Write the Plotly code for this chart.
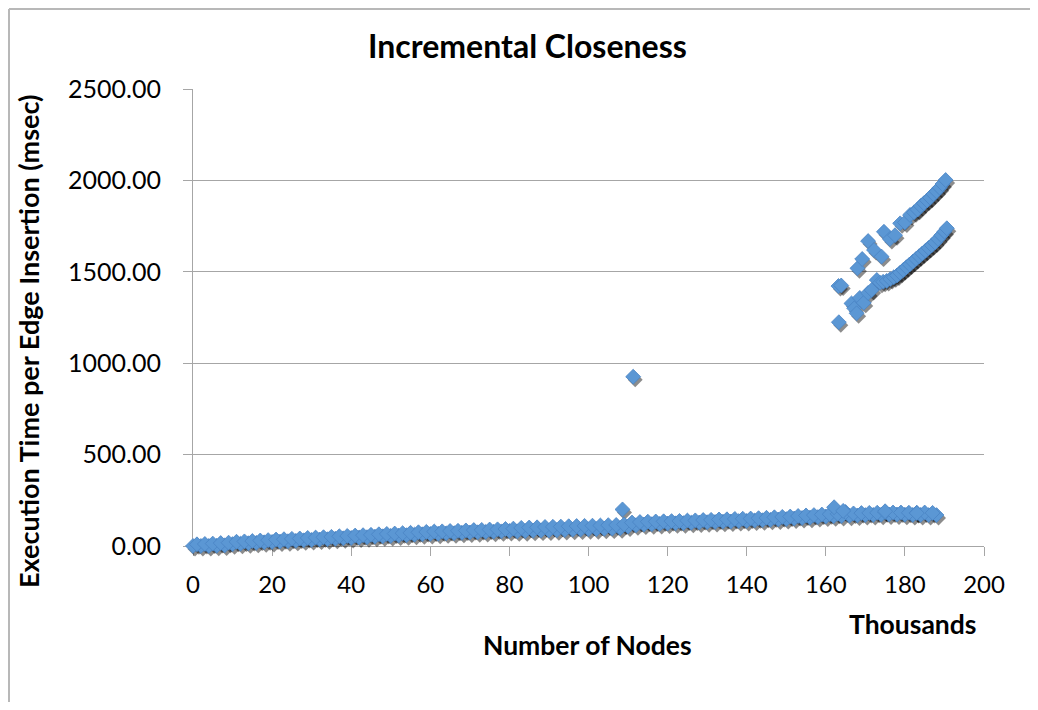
import plotly.graph_objects as go

# ---------------- data (thousands of nodes, msec) ----------------
band_low_x = [0, 2, 4, 6, 8, 10, 12, 14, 16, 18, 20, 22, 24, 26, 28, 30, 32, 34, 36, 38,
              40, 42, 44, 46, 48, 50, 52, 54, 56, 58, 60, 62, 64, 66, 68, 70, 72, 74, 76, 78,
              80, 82, 84, 86, 88, 90, 92, 94, 96, 98, 100, 102, 104, 106, 108, 110, 112, 114, 116, 118,
              120, 122, 124, 126, 128, 130, 132, 134, 136, 138, 140, 142, 144, 146, 148, 150, 152, 154, 156, 158,
              160, 162, 164, 166, 168, 170, 172, 174, 176, 178, 180, 182, 184, 186, 188]
band_low_y = [0, 0, 0, 1, 3, 10, 12, 15, 17, 20, 22, 24, 26, 28, 31, 33, 35, 37, 40, 42,
              44, 46, 48, 51, 53, 55, 57, 59, 62, 64, 66, 67, 69, 70, 72, 74, 75, 77, 78, 80,
              82, 80, 81, 83, 84, 85, 86, 87, 89, 90, 91, 92, 94, 95, 97, 106, 113, 117, 119, 120,
              123, 124, 125, 127, 128, 130, 131, 133, 134, 136, 137, 139, 141, 143, 145, 147, 150, 153, 155, 158,
              161, 163, 164, 166, 167, 169, 170, 171, 172, 172, 171, 170, 170, 169, 169]

band_high_x = [1, 3, 5, 7, 9, 11, 13, 15, 17, 19, 21, 23, 25, 27, 29, 31, 33, 35, 37, 39,
               41, 43, 45, 47, 49, 51, 53, 55, 57, 59, 61, 63, 65, 67, 69, 71, 73, 75, 77, 79,
               81, 83, 85, 87, 89, 91, 93, 95, 97, 99, 101, 103, 105, 107, 109, 111, 113, 115, 117, 119,
               121, 123, 125, 127, 129, 131, 133, 135, 137, 139, 141, 143, 145, 147, 149, 151, 153, 155, 157, 159,
               161, 163, 165, 167, 169, 171, 173, 175, 177, 179, 181, 183, 185, 187]
band_high_y = [9, 11, 13, 16, 18, 23, 25, 27, 30, 32, 35, 37, 39, 41, 44, 46, 48, 50, 53, 55,
               57, 59, 61, 64, 66, 68, 70, 72, 75, 77, 79, 80, 82, 83, 85, 87, 88, 90, 91, 93,
               95, 99, 101, 102, 104, 105, 106, 108, 109, 110, 111, 112, 114, 115, 118, 128, 131, 133, 134, 135,
               136, 137, 139, 140, 142, 143, 145, 146, 148, 149, 150, 152, 154, 157, 159, 161, 164, 167, 169, 172,
               174, 176, 186, 178, 180, 181, 182, 185, 183, 183, 182, 182, 183, 181]

outlier_x = [108.6, 111.3, 162.1, 164.4, 175.0, 183.0]
outlier_y = [200, 926, 212, 192, 190, 180]

upper_a_x = [163.2, 163.9, 168.0, 169.2, 170.7, 172.2, 174.1, 174.7, 176.2, 177.5, 178.8, 180.0,
             181.3, 182.3, 183.2, 184.0, 184.8, 185.6, 186.4, 187.2, 188.0, 188.8, 189.5, 190.3]
upper_a_y = [1422, 1425, 1519, 1570, 1668, 1619, 1583, 1719, 1679, 1700, 1765, 1770,
             1811, 1825, 1840, 1860, 1875, 1890, 1905, 1925, 1940, 1960, 1980, 2002]

upper_b_x = [163.3, 166.5, 167.2, 167.8, 168.6, 169.6, 170.7, 171.6, 172.9, 173.7, 174.5, 175.4,
             176.3, 177.2, 178.0, 178.8, 179.6, 180.4, 181.2, 182.0, 182.8, 183.6, 184.4, 185.2,
             186.0, 186.8, 187.6, 188.4, 189.2, 190.0, 190.6]
upper_b_y = [1224, 1327, 1300, 1273, 1357, 1330, 1384, 1400, 1455, 1440, 1445, 1450,
             1460, 1470, 1480, 1495, 1510, 1525, 1540, 1555, 1570, 1585, 1600, 1615,
             1630, 1645, 1660, 1680, 1700, 1720, 1738]

x_range = [0, 200]
y_range = [0, 2500]
x_ticks = [0, 20, 40, 60, 80, 100, 120, 140, 160, 180, 200]
y_ticks = [0, 500, 1000, 1500, 2000, 2500]
y_tick_labels = ["0.00", "500.00", "1000.00", "1500.00", "2000.00", "2500.00"]

all_x = band_low_x + band_high_x + outlier_x + upper_b_x + upper_a_x
all_y = band_low_y + band_high_y + outlier_y + upper_b_y + upper_a_y

# ---------------- figure ----------------
OFF = 8                       # default page body margin
W, H = 1022, 694
SX, SY = 2, 3                 # shadow offset px
ML, MT = 193 - OFF, 89 - OFF
MR = W - (984 - OFF) - SX
MB = H - (546 - OFF) - SY
PW, PH = W - ML - MR, H - MT - MB

FONT = "Lato"
GRID = "#a6a6a6"

fig = go.Figure()

# shadow (on offset axes x2/y2)
fig.add_trace(go.Scatter(
    x=all_x, y=all_y, mode="markers", xaxis="x2", yaxis="y2",
    marker=dict(symbol="diamond", size=11.5, color="rgba(0,0,0,0.45)", line=dict(width=0)),
    cliponaxis=False, hoverinfo="skip", showlegend=False))

# main markers (on x3/y3, same place as visible axes)
fig.add_trace(go.Scatter(
    x=all_x, y=all_y, mode="markers", xaxis="x3", yaxis="y3",
    marker=dict(symbol="diamond", size=11.5, color="#5b97d4",
                line=dict(width=0.8, color="#4a84c4")),
    cliponaxis=False, showlegend=False))

# invisible trace to anchor main visible axes
fig.add_trace(go.Scatter(x=[None], y=[None], mode="markers", showlegend=False, hoverinfo="skip"))

xdom_main = [0, (PW - SX) / PW]
ydom_main = [SY / PH, 1]
xdom_sh = [SX / PW, 1]
ydom_sh = [0, (PH - SY) / PH]

fig.update_layout(
    width=W, height=H,
    margin=dict(l=ML, r=MR, t=MT, b=MB),
    paper_bgcolor="white", plot_bgcolor="rgba(0,0,0,0)",
    showlegend=False,
    xaxis=dict(domain=xdom_main, range=x_range, tickvals=x_ticks, showgrid=False,
               showline=True, linecolor=GRID, linewidth=1, ticks="outside", ticklen=9,
               tickcolor=GRID, tickfont=dict(family=FONT, size=24, color="#000000"),
               ticklabelstandoff=8, zeroline=False, anchor="y"),
    yaxis=dict(domain=ydom_main, range=y_range, tickvals=y_ticks, ticktext=y_tick_labels,
               showgrid=True, gridcolor=GRID, gridwidth=1,
               showline=True, linecolor=GRID, linewidth=1, ticks="outside", ticklen=9,
               tickcolor=GRID, tickfont=dict(family=FONT, size=25, color="#000000"),
               ticklabelstandoff=17, zeroline=False, anchor="x"),
    xaxis2=dict(domain=xdom_sh, range=x_range, visible=False, anchor="y2"),
    yaxis2=dict(domain=ydom_sh, range=y_range, visible=False, anchor="x2"),
    xaxis3=dict(domain=xdom_main, range=x_range, visible=False, anchor="y3"),
    yaxis3=dict(domain=ydom_main, range=y_range, visible=False, anchor="x3"),
)

def px_x(p):
    return (p - OFF - ML) / PW

def px_y(p):
    return (H - MB - (p - OFF)) / PH

fig.add_annotation(text="<b>Incremental Closeness</b>", xref="paper", yref="paper",
                   x=px_x(527), y=px_y(46), showarrow=False,
                   font=dict(family=FONT, size=32, color="#000000"),
                   xanchor="center", yanchor="middle")
fig.add_annotation(text="<b>Number of Nodes</b>", xref="paper", yref="paper",
                   x=px_x(587), y=px_y(645), showarrow=False,
                   font=dict(family=FONT, size=26.5, color="#000000"),
                   xanchor="center", yanchor="middle")
fig.add_annotation(text="<b>Thousands</b>", xref="paper", yref="paper",
                   x=px_x(913), y=px_y(624), showarrow=False,
                   font=dict(family=FONT, size=26.5, color="#000000"),
                   xanchor="center", yanchor="middle")
fig.add_annotation(text="<b>Execution Time per Edge Insertion (msec)</b>", xref="paper", yref="paper",
                   x=px_x(28), y=px_y(342), showarrow=False, textangle=-90,
                   font=dict(family=FONT, size=27, color="#000000"),
                   xanchor="center", yanchor="middle")

# outer chart border (top and left edges visible in the frame), kept inside the figure
BORDER = dict(color="#b8b8b8", width=2)
fig.add_shape(type="line", xref="paper", yref="paper",
              x0=px_x(9), x1=px_x(W + OFF), y0=px_y(9), y1=px_y(9), line=BORDER, layer="below")
fig.add_shape(type="line", xref="paper", yref="paper",
              x0=px_x(9), x1=px_x(9), y0=px_y(9), y1=px_y(H + OFF), line=BORDER, layer="below")

fig.write_html("out.html")
